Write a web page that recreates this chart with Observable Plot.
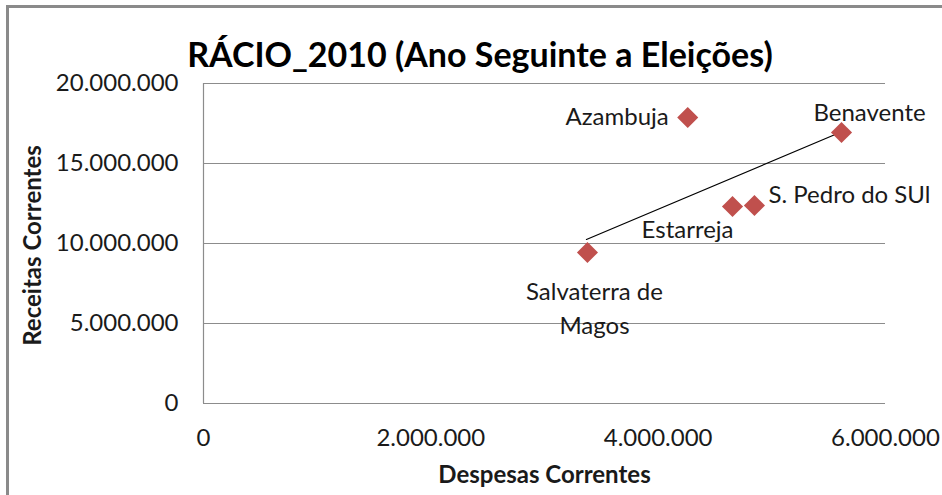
<!DOCTYPE html>
<html>
<head>
<meta charset="utf-8">
<script src="https://cdn.jsdelivr.net/npm/d3@7"></script>
<script src="https://cdn.jsdelivr.net/npm/@observablehq/plot@0.6"></script>
<style>
  html, body { margin: 0; padding: 0; background: #fff; }
  #wrap { position: relative; width: 942px; height: 495px; overflow: hidden; background: #fff; font-family: Lato, sans-serif; }
  #frame { position: absolute; left: 6px; top: 5px; right: -4px; bottom: -4px; border-left: 3px solid #8a8a8a; border-top: 3px solid #8a8a8a; pointer-events: none; }
  #title { height: 76px; box-sizing: border-box; padding-top: 37px; padding-left: 18px; text-align: center; font-size: 34px; line-height: 34px; font-weight: bold; color: #000; }
  #chart svg { display: block; }
</style>
</head>
<body>
<div id="wrap">
  <div id="title">RÁCIO_2010 (Ano Seguinte a Eleições)</div>
  <div id="chart"></div>
  <div id="frame"></div>
</div>
<script>
// Data
const municipios = ["Azambuja", "Benavente", "Estarreja", "S. Pedro do SUl", "Salvaterra de Magos"];
const despesas = [4260000, 5613000, 4654000, 4847000, 3378000];
const receitas = [17880000, 16940000, 12310000, 12375000, 9440000];
const trendX = [3369000, 5578000];
const trendY = [10250000, 16875000];
const xTicks = [0, 2000000, 4000000, 6000000];
const yTicks = [0, 5000000, 10000000, 15000000, 20000000];
const xTitle = "Despesas Correntes";
const yTitle = "Receitas Correntes";

const points = municipios.map((name, i) => ({name, x: despesas[i], y: receitas[i]}));
const trend = trendX.map((x, i) => ({x, y: trendY[i]}));

const fmt = d3.formatLocale({decimal: ",", thousands: ".", grouping: [3], currency: ["", ""]}).format(",d");

// label placement (styling only)
const labelStyle = {
  "Azambuja": {dx: -19, dy: -3, textAnchor: "end"},
  "Benavente": {dx: 28, dy: -22, textAnchor: "middle"},
  "S. Pedro do SUl": {dx: 14, dy: -13, textAnchor: "start"},
  "Estarreja": {dx: 1, dy: 21, textAnchor: "end"},
  "Salvaterra de Magos": {dx: 7, dy: 54, textAnchor: "middle"}
};
const labelText = d => d.name === "Salvaterra de Magos" ? "Salvaterra de\nMagos" : d.name;

const textColor = "#1a1a1a";
const gridColor = "#8c8c8c";

const labelMarks = points.map(p => Plot.text([p], {
  x: "x", y: "y", text: labelText,
  dx: labelStyle[p.name].dx, dy: labelStyle[p.name].dy,
  textAnchor: labelStyle[p.name].textAnchor,
  lineHeight: 1.4,
  fontSize: 24, fill: textColor
}));

const chart = Plot.plot({
  width: 942,
  height: 419,
  marginTop: 7,
  marginBottom: 92,
  marginLeft: 203,
  marginRight: 57,
  style: {fontFamily: "Lato, sans-serif", background: "#fff", overflow: "visible"},
  x: {domain: [0, 6000000], axis: null},
  y: {domain: [0, 20000000], axis: null},
  marks: [
    Plot.ruleY(yTicks, {stroke: gridColor, strokeWidth: 1.2}),
    Plot.ruleX([0], {y1: 0, y2: 20000000, stroke: gridColor, strokeWidth: 1.2}),
    Plot.text(yTicks, {y: d => d, x: 0, text: d => fmt(d), dx: -25, textAnchor: "end", fontSize: 24, fill: textColor}),
    Plot.text(xTicks, {x: d => d, y: 0, text: d => fmt(d), dy: 35, textAnchor: "middle", fontSize: 24, fill: textColor}),
    Plot.text([xTitle], {frameAnchor: "bottom", text: d => d, dy: 79, textAnchor: "middle", fontSize: 24, fontWeight: "bold", fill: textColor}),
    Plot.text([yTitle], {frameAnchor: "left", text: d => d, dx: -170, dy: 2, rotate: -90, textAnchor: "middle", fontSize: 24, fontWeight: "bold", fill: textColor}),
    Plot.line(trend, {x: "x", y: "y", stroke: "#000", strokeWidth: 1.2}),
    Plot.dot(points, {x: "x", y: "y", symbol: "diamond2", r: 9.5, fill: "#C0504D", stroke: "none"}),
    ...labelMarks
  ]
});
document.getElementById("chart").appendChild(chart);
</script>
</body>
</html>
